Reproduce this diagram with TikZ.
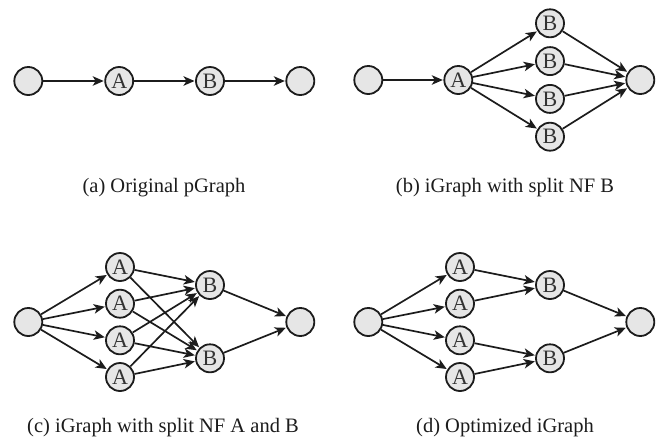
\documentclass[tikz,border=0pt]{standalone}
\usepackage{fontspec}
\setmainfont{Liberation Serif}
\usetikzlibrary{arrows.meta}
\definecolor{nodefill}{HTML}{E6E6E6}
\definecolor{ink}{HTML}{1C1C1C}
\begin{document}
\begin{tikzpicture}[x=1pt,y=-1pt,
  vert/.style={circle,draw=ink,fill=nodefill,line width=1.8pt,minimum size=28pt,inner sep=0pt,
    font=\fontsize{22}{24}\selectfont,text=ink!90},
  edge/.style={draw=ink,line width=1.7pt,-{Stealth[length=11pt,width=9.5pt,inset=3pt]},shorten >=0.6pt},
  captext/.style={font=\fontsize{20.5}{24}\selectfont,text=ink,anchor=base}]
\useasboundingbox (0,0) rectangle (662,440);

% (a)
\node[vert] (a0) at (28.3,81) {};
\node[vert] (aA) at (119.2,81) {A};
\node[vert] (aB) at (210,81) {B};
\node[vert] (a1) at (300.3,81) {};
\draw[edge] (a0) -- (aA);
\draw[edge] (aA) -- (aB);
\draw[edge] (aB) -- (a1);
\node[captext] (capa) at (164,192.5) {(a) Original pGraph};

% (b)
\node[vert] (b0) at (368.3,80) {};
\node[vert] (bA) at (458.3,80) {A};
\node[vert] (bB1) at (550,23.3) {B};
\node[vert] (bB2) at (550,61.1) {B};
\node[vert] (bB3) at (550,98.9) {B};
\node[vert] (bB4) at (550,136.7) {B};
\node[vert] (b1) at (640.3,80) {};
\draw[edge] (b0) -- (bA);
\foreach \i in {1,...,4} {
  \draw[edge] (bA) -- (bB\i);
  \draw[edge] (bB\i) -- (b1);
}
\node[captext] (capb) at (505,192.5) {(b) iGraph with split NF B};

% (c)
\node[vert] (c0) at (28.3,322) {};
\node[vert] (cA1) at (120,267) {A};
\node[vert] (cA2) at (120,303.7) {A};
\node[vert] (cA3) at (120,340.3) {A};
\node[vert] (cA4) at (120,377) {A};
\node[vert] (cB1) at (210,285) {B};
\node[vert] (cB2) at (210,358.3) {B};
\node[vert] (c1) at (300.3,322) {};
\foreach \i in {1,...,4} {
  \draw[edge] (c0) -- (cA\i);
  \draw[edge] (cA\i) -- (cB1);
  \draw[edge] (cA\i) -- (cB2);
}
\draw[edge] (cB1) -- (c1);
\draw[edge] (cB2) -- (c1);
\node[captext] (capc) at (163,432.5) {(c) iGraph with split NF A and B};

% (d)
\node[vert] (d0) at (368.3,322) {};
\node[vert] (dA1) at (460,267) {A};
\node[vert] (dA2) at (460,303.7) {A};
\node[vert] (dA3) at (460,340.3) {A};
\node[vert] (dA4) at (460,377) {A};
\node[vert] (dB1) at (550,285) {B};
\node[vert] (dB2) at (550,358.3) {B};
\node[vert] (d1) at (640.3,322) {};
\foreach \i in {1,...,4} {
  \draw[edge] (d0) -- (dA\i);
}
\draw[edge] (dA1) -- (dB1);
\draw[edge] (dA2) -- (dB1);
\draw[edge] (dA3) -- (dB2);
\draw[edge] (dA4) -- (dB2);
\draw[edge] (dB1) -- (d1);
\draw[edge] (dB2) -- (d1);
\node[captext] (capd) at (505,432.5) {(d) Optimized iGraph};
\end{tikzpicture}
\end{document}
